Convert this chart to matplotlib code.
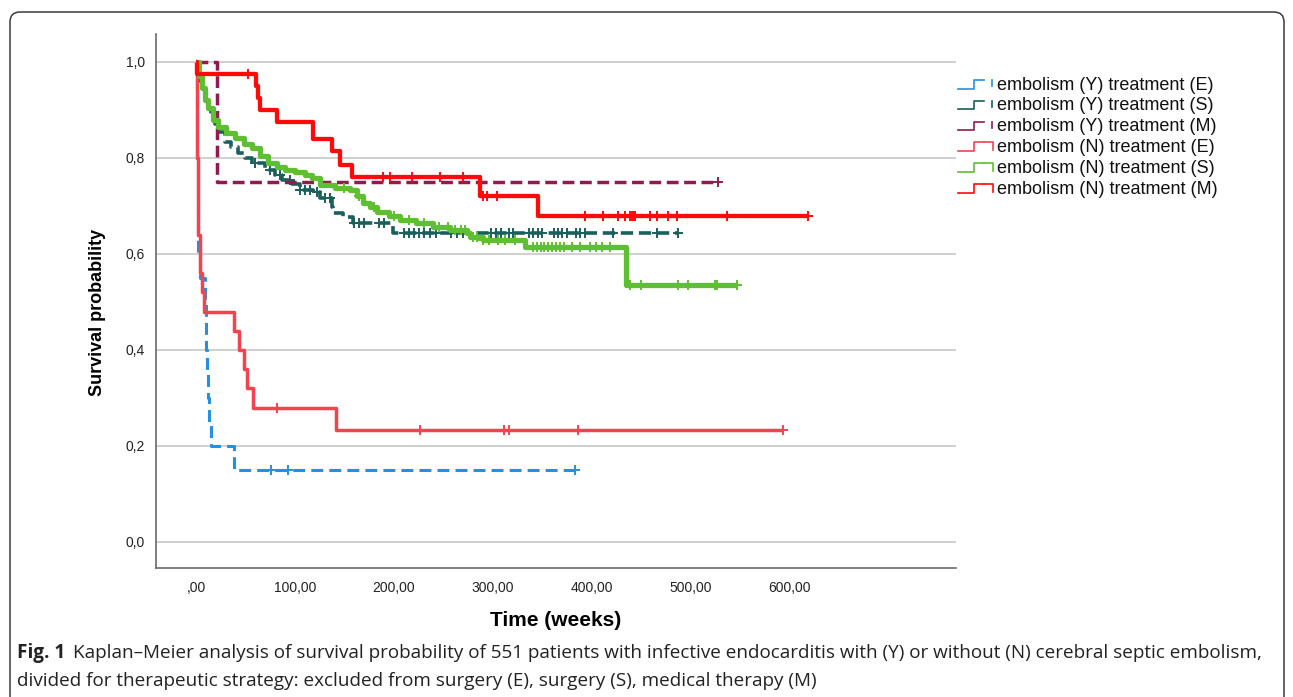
import numpy as np
import matplotlib as mpl
mpl.use('Agg')
import matplotlib.pyplot as plt
from matplotlib import font_manager
from matplotlib.patches import FancyBboxPatch
from matplotlib.lines import Line2D
from matplotlib.transforms import IdentityTransform

W, H = 1293, 697

# survival curves: event times (weeks), survival after each time, censor times, last follow-up
ye_t = [0, 1, 2, 4, 9, 10, 11, 12, 13, 15, 38]
ye_s = [1.0, 0.80, 0.60, 0.55, 0.50, 0.40, 0.35, 0.30, 0.25, 0.20, 0.15]
ye_c = [76, 93, 383]

ys_t = [0, 2, 4, 7, 10, 12, 15, 19, 22, 29, 35, 42, 50, 57, 70, 80, 87, 97, 105,
        118, 125, 137, 138, 148, 159, 199]
ys_s = [1.0, 0.98, 0.96, 0.94, 0.92, 0.905, 0.885, 0.87, 0.854, 0.833, 0.823, 0.81,
        0.80, 0.79, 0.775, 0.765, 0.754, 0.745, 0.733, 0.729, 0.717, 0.698, 0.685,
        0.677, 0.664, 0.644]
ys_c = [60, 75, 85, 95, 105, 110, 115, 122, 130, 135, 160, 165, 170, 185, 190, 210,
        215, 220, 225, 230, 236, 242, 258, 264, 270, 298, 303, 308, 316, 320, 336,
        340, 345, 350, 362, 366, 370, 375, 384, 388, 393, 421, 466, 487]

ym_t = [0, 21]
ym_s = [1.0, 0.75]
ym_c = [527]

ne_t = [0, 1, 2, 4, 6, 8, 38, 43, 48, 52, 58, 141]
ne_s = [1.0, 0.80, 0.64, 0.56, 0.52, 0.48, 0.44, 0.40, 0.36, 0.32, 0.28, 0.233]
ne_c = [82, 226, 311, 316, 386, 593]

ns_t = [0, 3, 6, 9, 12, 17, 22, 30, 39, 48, 57, 65, 73, 82, 90, 100, 110, 117, 125,
        140, 156, 163, 169, 176, 183, 195, 206, 222, 239, 257, 274, 277, 290, 332, 434]
ns_s = [1.0, 0.97, 0.946, 0.92, 0.904, 0.879, 0.865, 0.852, 0.842, 0.83, 0.82, 0.805,
        0.79, 0.782, 0.775, 0.77, 0.765, 0.758, 0.744, 0.738, 0.733, 0.72, 0.706,
        0.697, 0.688, 0.679, 0.671, 0.664, 0.656, 0.65, 0.644, 0.635, 0.629, 0.615,
        0.535]
ns_c = [150, 165, 180, 200, 215, 230, 245, 255, 262, 268, 272, 280, 284, 290, 296,
        305, 312, 322, 340, 344, 348, 352, 356, 360, 364, 368, 372, 380, 388, 398,
        404, 410, 418, 438, 450, 487, 497, 524, 526, 546]

nm_t = [0, 1, 61, 63, 65, 82, 118, 137, 145, 158, 287, 345]
nm_s = [1.0, 0.976, 0.95, 0.925, 0.90, 0.875, 0.84, 0.815, 0.785, 0.76, 0.72, 0.68]
nm_c = [53, 189, 196, 218, 246, 270, 290, 294, 304, 393, 411, 426, 433, 438, 440,
        441, 443, 459, 466, 477, 486, 536, 618]

labels = ['embolism (Y) treatment (E)', 'embolism (Y) treatment (S)',
          'embolism (Y) treatment (M)', 'embolism (N) treatment (E)',
          'embolism (N) treatment (S)', 'embolism (N) treatment (M)']
y_ticks = [0.0, 0.2, 0.4, 0.6, 0.8, 1.0]
y_ticklabels = ['0,0', '0,2', '0,4', '0,6', '0,8', '1,0']
x_ticks = [0, 100, 200, 300, 400, 500, 600]
x_ticklabels = [',00', '100,00', '200,00', '300,00', '400,00', '500,00', '600,00']

curves = [
    (ye_t, ye_s, ye_c, '#2490e0', 2.2, (0, (3.9, 2.0))),
    (ys_t, ys_s, ys_c, '#1b5f5c', 2.6, (0, (3.4, 1.6))),
    (ym_t, ym_s, ym_c, '#8e1c4e', 2.5, (0, (3.4, 1.6))),
    (ne_t, ne_s, ne_c, '#f2444e', 2.5, '-'),
    (ns_t, ns_s, ns_c, '#5fbf32', 3.8, '-'),
    (nm_t, nm_s, nm_c, '#ff0a0a', 3.1, '-'),
]

plt.rcParams['font.family'] = 'Liberation Sans'
fig = plt.figure(figsize=(W / 100, H / 100), dpi=100, facecolor='white')
ax = fig.add_axes([156 / W, 1 - 568 / H, 800 / W, 534 / H])

for i, (t, s, c, col, lw, ls) in enumerate(curves):
    t = np.asarray(t, float)
    s = np.asarray(s, float)
    c = np.asarray(c, float)
    xs = np.append(t, c.max())
    ys = np.append(s, s[-1])
    ax.step(xs, ys, where='post', color=col, lw=lw, ls=ls, zorder=3 + i,
            solid_capstyle='butt', dash_capstyle='butt')
    cy = s[np.searchsorted(t, c, side='right') - 1]
    ax.plot(c, cy, ls='none', marker='+', ms=7.5, mew=1.4, color=col, zorder=3 + i)

ax.set_xlim(-40.4, 767.7)
ax.set_ylim(-0.0542, 1.0583)
ax.set_yticks(y_ticks)
ax.set_yticklabels(y_ticklabels)
ax.set_xticks(x_ticks)
ax.set_xticklabels(x_ticklabels)
ax.tick_params(length=0, labelsize=10, colors='#222222')
ax.tick_params(axis='y', pad=8)
ax.tick_params(axis='x', pad=9)
ax.grid(axis='y', color='#c4c4c4', lw=1.1)
ax.set_axisbelow(True)
for sp in ['top', 'right']:
    ax.spines[sp].set_visible(False)
for sp in ['left', 'bottom']:
    ax.spines[sp].set_color('#6a6a6a')
    ax.spines[sp].set_linewidth(1.2)

fig.text(97 / W, 1 - 312 / H, 'Survival probability', rotation=90, fontsize=13,
         weight='bold', ha='center', va='center')
fig.text(556 / W, 1 - 621 / H, 'Time (weeks)', fontsize=15, weight='bold',
         ha='center', va='center')

# legend drawn SPSS-style: small step icon + label
pix = IdentityTransform()
for i, (lab, cur) in enumerate(zip(labels, curves)):
    col = cur[3]
    yc = H - (85 + i * 20.8)
    lo, hi = yc - 3.5, yc + 5
    fig.add_artist(Line2D([958, 974, 974, 984], [lo, lo, hi, hi], transform=pix,
                          color=col, lw=1.2))
    if i < 3:
        fig.add_artist(Line2D([992, 992], [hi, hi - 6], transform=pix, color=col, lw=1.2))
    else:
        fig.add_artist(Line2D([984, 993, 993], [hi, hi, lo + 1], transform=pix,
                              color=col, lw=1.2))
    fig.text(997 / W, yc / H, lab, fontsize=13, ha='left', va='center', color='#111111')

# caption
names = {f.name for f in font_manager.fontManager.ttflist}
cap_font = 'Liberation Sans Narrow' if 'Liberation Sans Narrow' in names else 'Open Sans'
line1 = ('Kaplan\u2013Meier analysis of survival probability of 551 patients with infective '
         'endocarditis with (Y) or without (N) cerebral septic embolism,')
line2 = ('divided for therapeutic strategy: excluded from surgery (E), surgery (S), '
         'medical therapy (M)')
renderer = fig.canvas.get_renderer()
size = 14
fig_lbl = fig.text(17 / W, 1 - 658 / H, 'Fig. 1', family=cap_font, weight='bold',
                   fontsize=size, va='baseline', color='#222222')
t1 = fig.text(0, 1 - 658 / H, line1, family=cap_font, fontsize=size, va='baseline',
              color='#222222')
t2 = fig.text(17 / W, 1 - 686 / H, line2, family=cap_font, fontsize=size,
              va='baseline', color='#222222')
for _ in range(3):
    bb = fig_lbl.get_window_extent(renderer)
    gap = 0.55 * size
    t1.set_x((bb.x1 + gap) / W)
    bb1 = t1.get_window_extent(renderer)
    size = size * (1255 - 17) / (bb1.x1 - 17)
    for tx in (fig_lbl, t1, t2):
        tx.set_fontsize(size)
bb = fig_lbl.get_window_extent(renderer)
t1.set_x((bb.x1 + 0.55 * size) / W)

fig.add_artist(FancyBboxPatch((10, -20), 1274, H - 12 + 20, transform=pix,
                              boxstyle='round,pad=0,rounding_size=10',
                              fill=False, ec='#3a3a3a', lw=1.1))

fig.savefig('out.png', dpi=100, facecolor='white')
